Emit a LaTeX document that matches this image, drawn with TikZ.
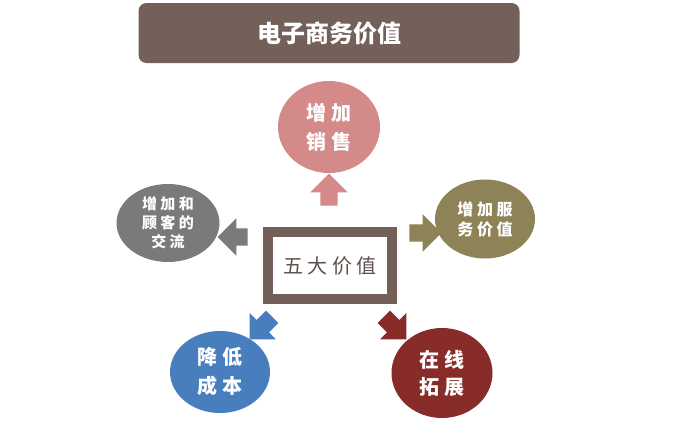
\documentclass[tikz,border=0pt]{standalone}
\usepackage{fontspec}
\newfontfamily\cjk{Noto Sans CJK SC}
\usetikzlibrary{shapes.geometric,shapes.arrows}
\definecolor{titlebrown}{RGB}{114,96,89}
\definecolor{salespink}{RGB}{212,138,136}
\definecolor{talkgrey}{RGB}{122,122,122}
\definecolor{serveolive}{RGB}{142,131,86}
\definecolor{costblue}{RGB}{72,125,190}
\definecolor{onlinered}{RGB}{136,44,42}
\definecolor{coretext}{RGB}{92,82,78}
\tikzset{
  titlebox/.style={rectangle, rounded corners=8pt, fill=titlebrown,
    minimum width=381pt, minimum height=60pt, text=white,
    font=\cjk\bfseries\fontsize{24}{28}\selectfont},
  corebox/.style={rectangle, draw=titlebrown, line width=10pt, fill=white,
    minimum width=124pt, minimum height=67pt, text=coretext,
    font=\cjk\fontsize{20}{22}\selectfont},
  value/.style={ellipse, inner sep=0pt, align=center, text=white},
  bigtxt/.style={font=\cjk\bfseries\fontsize{20}{29}\selectfont},
  smalltxt/.style={font=\cjk\bfseries\fontsize{15}{19}\selectfont},
  blockarr/.style={single arrow, single arrow head extend=10pt,
    minimum width=36pt, minimum height=32pt, inner xsep=0pt, inner ysep=8.5pt},
}

\begin{document}
\begin{tikzpicture}[x=1pt,y=-1pt]
\useasboundingbox[fill=white] (0,0) rectangle (683,431);

% ===================== TITLE =====================
\node[titlebox] (title) at (329,33) {电子商务价值};

% ===================== CENTRE =====================
\node[corebox] (core) at (330,265.5) {五 大 价 值};

% ===================== FIVE VALUES =====================
\node[value, bigtxt, fill=salespink, minimum width=102pt, minimum height=92pt]
  (sales) at (329,127) {增 加\\销 售};
\node[value, smalltxt, fill=talkgrey, minimum width=103pt, minimum height=78pt]
  (talk) at (168,223) {增 加 和\\顾 客 的\\交 流};
\node[value, smalltxt, fill=serveolive, minimum width=100pt, minimum height=79pt,
  font=\cjk\bfseries\fontsize{16}{20}\selectfont]
  (serve) at (485,219) {增 加 服\\务 价 值};
\node[value, bigtxt, fill=costblue, minimum width=100pt, minimum height=82pt]
  (cost) at (220,372) {降 低\\成 本};
\node[value, bigtxt, fill=onlinered, minimum width=101pt, minimum height=90pt,
  font=\cjk\bfseries\fontsize{20}{27}\selectfont]
  (online) at (442,373) {在 线\\拓 展};

% block arrows from the centre
\node[blockarr, fill=salespink, rotate=90]  (a1) at (329,194) {};
\node[blockarr, fill=talkgrey, rotate=180, minimum height=30pt] (a2) at (237,237) {};
\node[blockarr, fill=serveolive] (a3) at (421,233) {};
\node[blockarr, fill=costblue, rotate=225] (a4) at (264,325) {};
\node[blockarr, fill=onlinered, rotate=-45] (a5) at (392,325) {};

\end{tikzpicture}
\end{document}
